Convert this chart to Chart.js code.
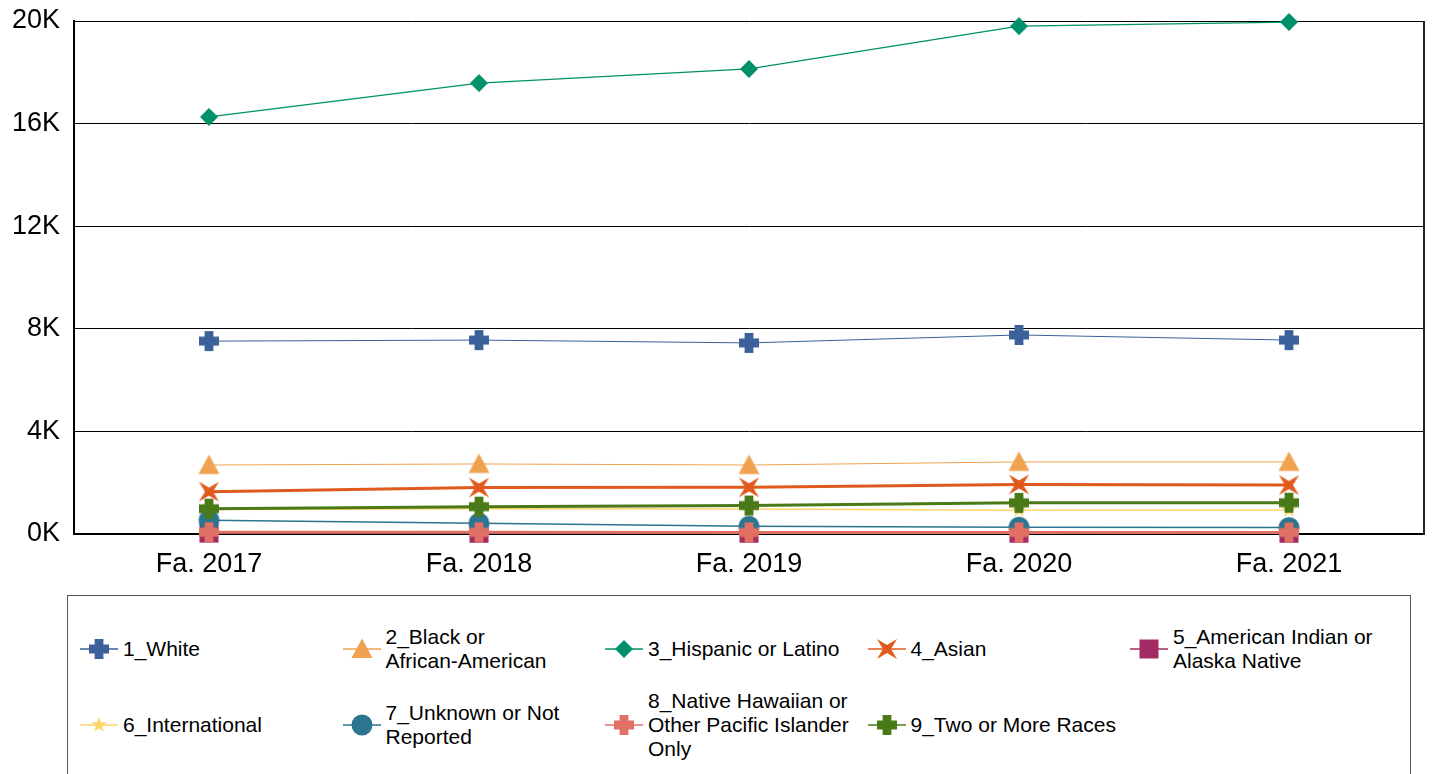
<!DOCTYPE html>
<html>
<head>
<meta charset="utf-8">
<script src="https://cdn.jsdelivr.net/npm/chart.js@4"></script>
<style>
  body { margin: 0; width: 1432px; height: 774px; overflow: hidden; background: #fff;
         font-family: "Liberation Sans", Arial, sans-serif; position: relative; }
  #wrap { position: absolute; left: 0; top: 0; width: 1432px; height: 590px; }
  #legendBox { position: absolute; left: 67px; top: 595px; width: 1344px; height: 200px;
               border: 1px solid #555; box-sizing: border-box; }
  .item { position: absolute; display: flex; align-items: center; font-size: 21px;
          line-height: 24px; color: #000; white-space: pre-line; transform: translateY(-50%); }
  .item canvas { margin-right: 3px; flex: none; }
</style>
</head>
<body>
<div id="wrap"><canvas id="myChart" width="1432" height="590"></canvas></div>
<div id="legendBox"></div>
<script>
// data
const categories = ['Fa. 2017', 'Fa. 2018', 'Fa. 2019', 'Fa. 2020', 'Fa. 2021'];
const white = [7520, 7560, 7450, 7760, 7560];
const black = [2690, 2730, 2690, 2810, 2810];
const hispanic = [16260, 17580, 18130, 19800, 19960];
const asian = [1650, 1810, 1820, 1930, 1910];
const amIndian = [35, 30, 30, 30, 30];
const international = [960, 980, 975, 930, 935];
const unknown = [540, 420, 300, 265, 250];
const hawaiian = [70, 65, 60, 60, 60];
const twoOrMore = [985, 1065, 1110, 1215, 1220];
const yTicks = [0, 4000, 8000, 12000, 16000, 20000];

const seriesNames = ['1_White', '2_Black or\nAfrican-American', '3_Hispanic or Latino', '4_Asian',
    '5_American Indian or\nAlaska Native', '6_International', '7_Unknown or Not\nReported',
    '8_Native Hawaiian or\nOther Pacific Islander\nOnly', '9_Two or More Races'];
const seriesValues = [white, black, hispanic, asian, amIndian, international, unknown, hawaiian, twoOrMore];
const colors = ['#3a6199', '#f0a250', '#00906a', '#e05a1e', '#a32a62', '#ffd46a', '#2b7590', '#e07064', '#4a7a18'];
const shapes = ['plus', 'triangle', 'diamond', 'star4', 'rect', 'star5', 'circle', 'plus', 'plus'];
const lineWidths = [1, 1, 1.3, 3, 1, 1.5, 1.5, 3, 3];
const sizes = { plus: 20, triangle: 21, diamond: 18, star4: 21, rect: 19, star5: 16, circle: 21 };

function drawShape(ctx, shape, color, cx, cy, s) {
    const r = s / 2;
    ctx.fillStyle = color;
    ctx.beginPath();
    if (shape === 'plus') {
        const a = s * 0.22;
        ctx.moveTo(cx - a, cy - r); ctx.lineTo(cx + a, cy - r); ctx.lineTo(cx + a, cy - a);
        ctx.lineTo(cx + r, cy - a); ctx.lineTo(cx + r, cy + a); ctx.lineTo(cx + a, cy + a);
        ctx.lineTo(cx + a, cy + r); ctx.lineTo(cx - a, cy + r); ctx.lineTo(cx - a, cy + a);
        ctx.lineTo(cx - r, cy + a); ctx.lineTo(cx - r, cy - a); ctx.lineTo(cx - a, cy - a);
    } else if (shape === 'triangle') {
        ctx.moveTo(cx, cy - r); ctx.lineTo(cx + r, cy + r * 0.85); ctx.lineTo(cx - r, cy + r * 0.85);
    } else if (shape === 'diamond') {
        ctx.moveTo(cx, cy - r); ctx.lineTo(cx + r, cy); ctx.lineTo(cx, cy + r); ctx.lineTo(cx - r, cy);
    } else if (shape === 'star4') {
        for (let i = 0; i < 8; i++) {
            const ang = Math.PI / 4 + i * Math.PI / 4;
            const rad = i % 2 === 0 ? r * 1.35 : r * 0.38;
            const x = cx + Math.cos(ang) * rad, y = cy + Math.sin(ang) * rad;
            i === 0 ? ctx.moveTo(x, y) : ctx.lineTo(x, y);
        }
    } else if (shape === 'rect') {
        ctx.rect(cx - r, cy - r, s, s);
    } else if (shape === 'star5') {
        for (let i = 0; i < 10; i++) {
            const ang = -Math.PI / 2 + i * Math.PI / 5;
            const rad = i % 2 === 0 ? r : r * 0.42;
            const x = cx + Math.cos(ang) * rad, y = cy + Math.sin(ang) * rad;
            i === 0 ? ctx.moveTo(x, y) : ctx.lineTo(x, y);
        }
    } else {
        ctx.arc(cx, cy, r, 0, Math.PI * 2);
    }
    ctx.closePath();
    ctx.fill();
}

function makeMarker(shape, color) {
    const s = sizes[shape];
    const c = document.createElement('canvas');
    c.width = s + 10; c.height = s + 10;
    drawShape(c.getContext('2d'), shape, color, c.width / 2, c.height / 2, s);
    return c;
}

// legend, built as html so labels can wrap like the original
const legendBox = document.getElementById('legendBox');
seriesNames.forEach(function(name, i) {
    const col = i % 5, row = Math.floor(i / 5);
    const item = document.createElement('div');
    item.className = 'item';
    item.style.left = (80 + col * 262.5 - 68) + 'px';
    item.style.top = (row === 0 ? 648 - 595 : 724 - 595) + 'px';
    const ic = document.createElement('canvas');
    ic.width = 40; ic.height = 30;
    const ictx = ic.getContext('2d');
    ictx.strokeStyle = colors[i];
    ictx.lineWidth = 1.5;
    ictx.beginPath(); ictx.moveTo(0, 15); ictx.lineTo(38, 15); ictx.stroke();
    drawShape(ictx, shapes[i], colors[i], 19, 15, sizes[shapes[i]]);
    item.appendChild(ic);
    const t = document.createElement('span');
    t.textContent = name;
    item.appendChild(t);
    legendBox.appendChild(item);
});

const datasets = seriesValues.map(function(vals, i) {
    return {
        label: seriesNames[i].replace(/\n/g, ' '),
        data: vals,
        borderColor: colors[i],
        backgroundColor: colors[i],
        borderWidth: lineWidths[i],
        pointStyle: makeMarker(shapes[i], colors[i]),
        pointRadius: 10,
        tension: 0,
        clip: false,
        order: -i
    };
});

const rightBorder = {
    id: 'rightBorder',
    afterDraw(chart) {
        const a = chart.chartArea, ctx = chart.ctx;
        ctx.save();
        ctx.strokeStyle = '#222';
        ctx.lineWidth = 2;
        ctx.beginPath(); ctx.moveTo(a.right, a.top); ctx.lineTo(a.right, a.bottom + 1); ctx.stroke();
        ctx.restore();
    }
};

new Chart(document.getElementById('myChart').getContext('2d'), {
    type: 'line',
    data: { labels: categories, datasets: datasets },
    plugins: [rightBorder],
    options: {
        responsive: false,
        devicePixelRatio: 1,
        animation: false,
        layout: { autoPadding: false, padding: { top: 21, right: 8, left: 0, bottom: 0 } },
        plugins: { legend: { display: false }, tooltip: { enabled: false } },
        scales: {
            x: {
                offset: true,
                grid: { display: false, drawTicks: false },
                border: { color: '#000', width: 2 },
                ticks: { padding: 14, color: '#000', font: { family: 'Liberation Sans', size: 27 } },
                afterFit: function(s) {
                    s.height = 56;
                    s.paddingLeft = 0; s.paddingRight = 0;
                }
            },
            y: {
                min: 0, max: 20000,
                afterBuildTicks: function(s) { s.ticks = yTicks.map(v => ({ value: v })); },
                grid: { color: '#000', lineWidth: 1, drawTicks: false },
                border: { color: '#000', width: 2 },
                ticks: {
                    padding: 14, color: '#000', font: { family: 'Liberation Sans', size: 27 },
                    callback: function(v) { return (v / 1000) + 'K'; }
                },
                afterFit: function(s) {
                    s.width = 74;
                    s.paddingTop = 0; s.paddingBottom = 0;
                }
            }
        }
    }
});
</script>
</body>
</html>
